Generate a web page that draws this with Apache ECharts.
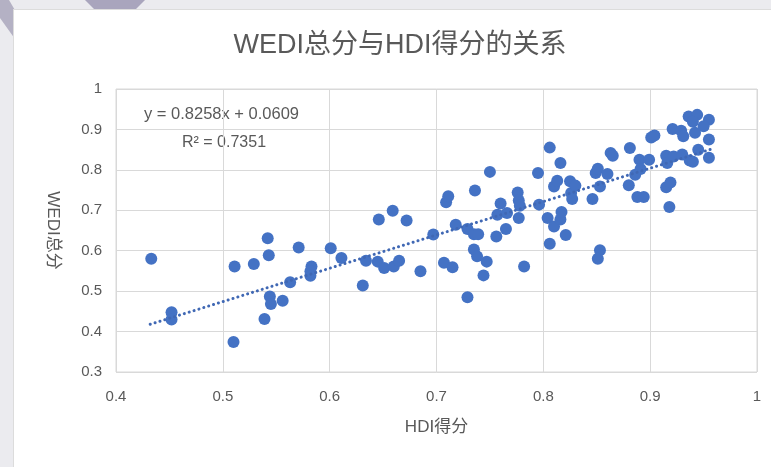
<!DOCTYPE html>
<html>
<head>
<meta charset="utf-8">
<script src="https://cdn.jsdelivr.net/npm/echarts@6/dist/echarts.min.js"></script>
<style>
html,body{margin:0;padding:0;width:771px;height:467px;overflow:hidden;background:#ebebef;}
#deco1{position:absolute;left:0;top:0;width:30px;height:60px;background:#8f8aa6;clip-path:polygon(0 0,30% 0,100% 60%,100% 100%,0 30%);opacity:0.6;}
#deco2{position:absolute;left:85px;top:0;width:60px;height:12px;background:#8d88a8;clip-path:polygon(0 0,100% 0,80% 100%,20% 100%);opacity:0.7;}
#card{position:absolute;left:13px;top:9px;right:0;bottom:0;background:#fff;border-left:1px solid #dcdcdc;border-top:1px solid #dcdcdc;}
#chart{position:absolute;left:0;top:0;width:771px;height:467px;}
</style>
</head>
<body>
<div id="deco1"></div>
<div id="deco2"></div>
<div id="card"></div>
<div id="chart"></div>
<script>
// HDI score (x) and WEDI total score (y)
const hdi = [0.433,0.452,0.452,0.511,0.510,0.529,0.542,0.543,0.544,0.545,0.539,0.556,0.563,0.571,0.583,0.582,0.582,0.601,0.611,0.631,
0.634,0.645,0.646,0.659,0.672,0.651,0.660,0.665,0.685,0.697,0.707,0.715,0.709,0.711,0.718,0.729,0.729,0.735,0.739,0.736,
0.735,0.738,0.747,0.744,0.750,0.756,0.757,0.760,0.765,0.766,0.776,0.777,0.778,0.777,0.782,0.795,0.796,0.806,0.804,0.806,
0.810,0.810,0.813,0.816,0.816,0.817,0.821,0.825,0.826,0.827,0.830,0.846,0.849,0.851,0.853,0.853,0.851,0.860,0.863,0.865,
0.881,0.880,0.886,0.890,0.891,0.888,0.894,0.899,0.901,0.904,0.915,0.916,0.915,0.919,0.918,0.921,0.922,0.929,0.931,0.930,
0.936,0.937,0.944,0.942,0.945,0.955,0.955,0.940,0.955,0.940,0.950];
const wedi = [0.580,0.448,0.430,0.561,0.374,0.567,0.631,0.589,0.487,0.468,0.431,0.476,0.522,0.608,0.561,0.549,0.538,0.606,0.582,0.514,
0.575,0.573,0.677,0.699,0.675,0.557,0.561,0.575,0.549,0.640,0.570,0.559,0.720,0.735,0.664,0.485,0.654,0.641,0.641,0.749,
0.603,0.586,0.573,0.539,0.795,0.635,0.689,0.717,0.654,0.693,0.744,0.724,0.711,0.681,0.561,0.792,0.714,0.855,0.681,0.617,
0.660,0.759,0.773,0.817,0.677,0.696,0.639,0.772,0.743,0.728,0.761,0.728,0.792,0.803,0.759,0.601,0.580,0.790,0.842,0.835,
0.854,0.762,0.788,0.825,0.802,0.733,0.733,0.825,0.880,0.885,0.835,0.817,0.757,0.769,0.708,0.901,0.833,0.897,0.883,0.838,
0.932,0.823,0.936,0.892,0.850,0.924,0.875,0.919,0.830,0.820,0.908];
// dotted linear trendline endpoints
const trendX = [0.432, 0.957];
const trendY = [0.418, 0.851];
const xTicks = ['0.4','0.5','0.6','0.7','0.8','0.9','1'];
const yTicks = ['0.3','0.4','0.5','0.6','0.7','0.8','0.9','1'];
const titleText = 'WEDI总分与HDI得分的关系';
const xName = 'HDI得分';
const yName = 'WEDI总分';
const eqText = 'y = 0.8258x + 0.0609';
const r2Text = 'R² = 0.7351';

const FONT = "'Liberation Sans','Noto Sans CJK SC',sans-serif";
const TXT = '#595959';
const chart = echarts.init(document.getElementById('chart'), null, {renderer:'canvas'});
const points = hdi.map((x,i)=>[x, wedi[i]]);
const trend = trendX.map((x,i)=>[x, trendY[i]]);
chart.setOption({
  animation:false,
  backgroundColor:'transparent',
  title:{text:titleText,left:395,top:27,textAlign:'center',
    textStyle:{fontFamily:FONT,fontSize:27,fontWeight:'normal',color:TXT}},
  grid:{left:116,right:14,top:89,bottom:95,show:true,borderColor:'#d9d9d9',borderWidth:1,backgroundColor:'#fff'},
  xAxis:{type:'value',min:0.4,max:1,interval:0.1,
    name:xName,nameLocation:'middle',nameGap:47,
    nameTextStyle:{fontFamily:FONT,fontSize:17,color:TXT},
    axisLine:{show:false},axisTick:{show:false},
    axisLabel:{fontFamily:FONT,fontSize:15,color:TXT,margin:17,
      formatter:(v)=>{const i=Math.round((v-0.4)*10);return xTicks[i]!==undefined?xTicks[i]:'';}},
    splitLine:{show:true,lineStyle:{color:'#d9d9d9',width:1}}},
  yAxis:{type:'value',min:0.3,max:1,interval:0.1,
    name:yName,nameLocation:'middle',nameGap:55,nameRotate:-90,
    nameTextStyle:{fontFamily:FONT,fontSize:17,color:TXT},
    axisLine:{show:false},axisTick:{show:false},
    axisLabel:{fontFamily:FONT,fontSize:15,color:TXT,margin:14,
      formatter:(v)=>{const i=Math.round((v-0.3)*10);return yTicks[i]!==undefined?yTicks[i]:'';}},
    splitLine:{show:true,lineStyle:{color:'#d9d9d9',width:1}}},
  graphic:[
    {type:'text',left:144,top:106,style:{text:eqText,font:"16.5px 'Liberation Sans',sans-serif",fill:TXT}},
    {type:'text',left:182,top:135,style:{text:r2Text,font:"16px 'Liberation Sans',sans-serif",fill:TXT}}
  ],
  series:[
    {type:'scatter',data:points,symbolSize:12,itemStyle:{color:'#4472C4',opacity:1},z:3},
    {type:'line',data:trend,symbol:'none',z:4,
      lineStyle:{color:'#4068b4',width:3,type:[0.1,5],cap:'round'}}
  ]
});
</script>
</body>
</html>
